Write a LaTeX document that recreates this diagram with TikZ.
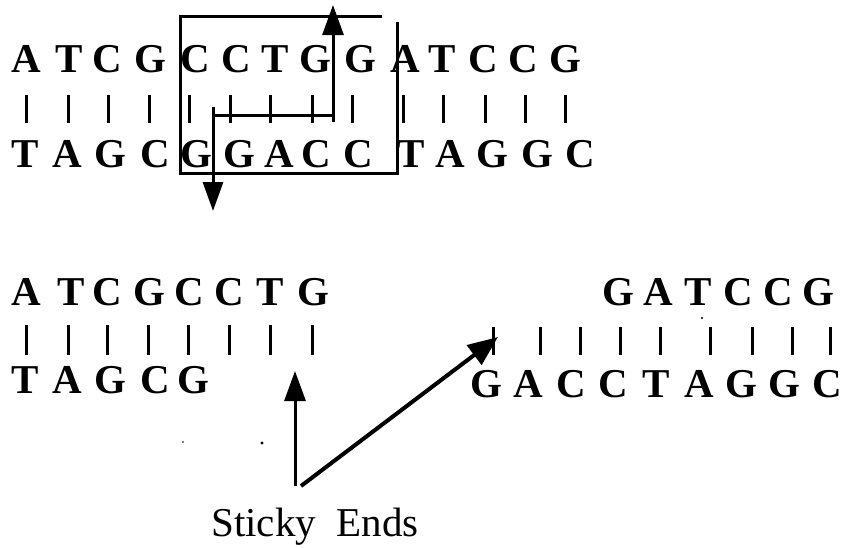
\documentclass[tikz,border=0pt]{standalone}
\usepackage{fontspec}
\setmainfont{Liberation Serif}
\usetikzlibrary{arrows.meta}
\tikzset{
  base/.style={inner sep=0pt, anchor=base, font=\fontsize{41}{41}\selectfont\bfseries},
  bond/.style={line width=3pt},
  cut/.style={line width=3pt},
  pointer/.style={line width=3.4pt, -{Triangle[length=30pt,width=21pt]}},
  caption/.style={inner sep=0pt, anchor=base, font=\fontsize{41}{41}\selectfont}
}
\begin{document}
\begin{tikzpicture}[x=1pt,y=-1pt]
\useasboundingbox (0,0) rectangle (847,547);

% ---- intact double strand ----
\foreach \ch/\x [count=\i] in {A/26,T/69,C/107,G/150,C/195,C/236,T/275,G/315,G/360,A/405,T/442,C/483,C/523,G/565}
  \node[base] (u\i) at (\x,72) {\ch};
\foreach \ch/\x [count=\i] in {T/25,A/67,G/110,C/155,G/196,G/239,A/279,C/316,C/358,T/411,A/450,G/492,G/537,C/580}
  \node[base] (l\i) at (\x,167) {\ch};
\foreach \x in {26,68,108,149,189,230,270,312,352,403,443,485,525,565}
  \draw[bond] (\x,95) -- (\x,123);

% recognition site frame
\coordinate (fa) at (397,22);
\coordinate (fb) at (397,173);
\coordinate (fc) at (180,173);
\coordinate (fd) at (180,16);
\coordinate (fe) at (382,16);
\draw[cut] (fa) -- (fb) -- (fc) -- (fd) -- (fe);

% staggered cut
\coordinate (c0) at (333,122);
\coordinate (c1) at (333,115);
\coordinate (c2) at (213,115);
\coordinate (cu) at (333,5);
\coordinate (cs) at (213,107);
\coordinate (cd) at (213,211);
\draw[cut] (c0) -- (c1) -- (c2);
\draw[pointer, line width=3pt] (c1) -- (cu);
\draw[pointer, line width=3pt, -{Triangle[length=29pt,width=20pt]}] (cs) -- (cd);

% ---- cut fragments ----
\foreach \ch/\x [count=\i] in {A/26,T/71,C/107,G/149,C/189,C/229,T/270,G/313}
  \node[base] (a\i) at (\x,305) {\ch};
\foreach \ch/\x [count=\i] in {T/25,A/67,G/110,C/155,G/193}
  \node[base] (b\i) at (\x,393) {\ch};
\foreach \x in {26,68,107,148,188,229,270,312}
  \draw[bond] (\x,325) -- (\x,355);

\foreach \ch/\x [count=\i] in {G/618,A/658,T/698,C/738,C/778,G/818}
  \node[base] (c\i) at (\x,305) {\ch};
\foreach \ch/\x [count=\i] in {G/486,A/528,C/571,C/613,T/656,A/699,G/741,G/784,C/827}
  \node[base] (d\i) at (\x,397) {\ch};
\foreach \x in {493,540,580,620,660,710,752,792,830}
  \draw[bond] (\x,327) -- (\x,355);

% specks
\fill (702,318) circle (1.1);
\fill (262,443) circle (1.6);
\fill (183,442) circle (0.8);

% sticky ends label
\node[caption] (lab) at (315,536) {Sticky\ \ Ends};
\coordinate (s0) at (295,486);
\coordinate (s1) at (301,486);
\coordinate (tipA) at (295,371);
\coordinate (tipB) at (498,337);
\draw[pointer, line width=3pt] (s0) -- (tipA);
\draw[pointer, line width=4pt, -{Triangle[length=30pt,width=24pt]}] (s1) -- (tipB);
\end{tikzpicture}
\end{document}
